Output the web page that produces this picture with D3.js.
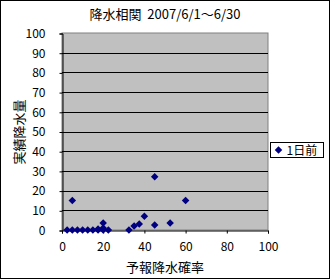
<!DOCTYPE html>
<html>
<head>
<meta charset="utf-8">
<script src="https://cdn.jsdelivr.net/npm/d3@7"></script>
<style>
  body { margin: 0; background: #fff; }
  text { font-family: "Noto Sans CJK JP", sans-serif; font-size: 12px; fill: #000; }
</style>
</head>
<body>
<div id="chart"></div>
<script>
// data
var forecast = [2.5, 5, 7.5, 10, 12.5, 15, 17.5, 17.5, 20, 20, 20, 22.5, 5, 32.5, 35, 37.5, 40, 45, 45, 52.5, 60];
var actual   = [0,   0, 0,   0,  0,    0,  0,    0.5,  0,  1,  3.5, 0,  15, 0,   2,  3,    7,  2.5, 27, 3.5,  15];
var xTicks = [0, 20, 40, 60, 80, 100];
var yTicks = d3.range(0, 101, 10);
var seriesName = "1日前";

var width = 330, height = 279;
var plot = { left: 62, top: 33, right: 268, bottom: 230 };

var svg = d3.select("#chart")
  .append("svg")
    .attr("width", width)
    .attr("height", height);

// outer frame
svg.append("rect")
  .attr("x", 0.5).attr("y", 0.5)
  .attr("width", width - 1).attr("height", height - 1)
  .attr("fill", "#fff").attr("stroke", "#000");

var x = d3.scaleLinear().domain([0, 100]).range([plot.left, plot.right]);
var y = d3.scaleLinear().domain([0, 100]).range([plot.bottom, plot.top]);

// plot area
svg.append("rect")
  .attr("x", plot.left).attr("y", plot.top)
  .attr("width", plot.right - plot.left).attr("height", plot.bottom - plot.top)
  .attr("fill", "#c0c0c0").attr("stroke", "#808080");

// gridlines
svg.append("g")
  .selectAll("line")
  .data(yTicks.filter(function(d){ return d > 0 && d < 100; }))
  .enter()
  .append("line")
    .attr("x1", plot.left).attr("x2", plot.right)
    .attr("y1", function(d){ return Math.round(y(d)) + 0.5; })
    .attr("y2", function(d){ return Math.round(y(d)) + 0.5; })
    .attr("stroke", "#000");

// axes
var yAxis = svg.append("g")
  .attr("transform", "translate(" + (plot.left + 0.5) + ",0.5)")
  .call(d3.axisLeft(y).tickValues(yTicks).tickSize(3).tickPadding(14));
var xAxis = svg.append("g")
  .attr("transform", "translate(0," + (plot.bottom + 0.5) + ")")
  .call(d3.axisBottom(x).tickValues(xTicks).tickSize(3).tickPadding(9));

[xAxis, yAxis].forEach(function(a){
  a.select(".domain").attr("stroke", "#000");
  a.selectAll(".tick line").attr("stroke", "#000");
  a.selectAll("text").style("font-family", "'Noto Sans CJK JP', sans-serif").style("font-size", "12px");
});

// points
var diamond = d3.symbol().type(d3.symbolDiamond2).size(36);
svg.append("g")
  .selectAll("path")
  .data(forecast.map(function(d, i){ return { x: d, y: actual[i] }; }))
  .enter()
  .append("path")
    .attr("d", diamond)
    .attr("transform", function(d){ return "translate(" + x(d.x) + "," + y(d.y) + ")"; })
    .attr("fill", "#000080");

// title
svg.append("text")
  .attr("x", 165).attr("y", 19)
  .attr("text-anchor", "middle")
  .style("font-size", "13px")
  .style("white-space", "pre")
  .text("降水相関  2007/6/1～6/30");

// axis titles
svg.append("text")
  .attr("x", 165).attr("y", 272)
  .attr("text-anchor", "middle")
  .style("font-size", "13px")
  .text("予報降水確率");
svg.append("text")
  .attr("transform", "translate(24,132) rotate(-90)")
  .attr("text-anchor", "middle")
  .style("font-size", "13px")
  .text("実績降水量");

// legend
var legend = svg.append("g").attr("transform", "translate(270.5,142.5)");
legend.append("rect")
  .attr("width", 53).attr("height", 15)
  .attr("fill", "#fff").attr("stroke", "#000");
legend.append("path")
  .attr("d", diamond)
  .attr("transform", "translate(8,7.5)")
  .attr("fill", "#000080");
legend.append("text")
  .attr("x", 16).attr("y", 12)
  .text(seriesName);
</script>
</body>
</html>
